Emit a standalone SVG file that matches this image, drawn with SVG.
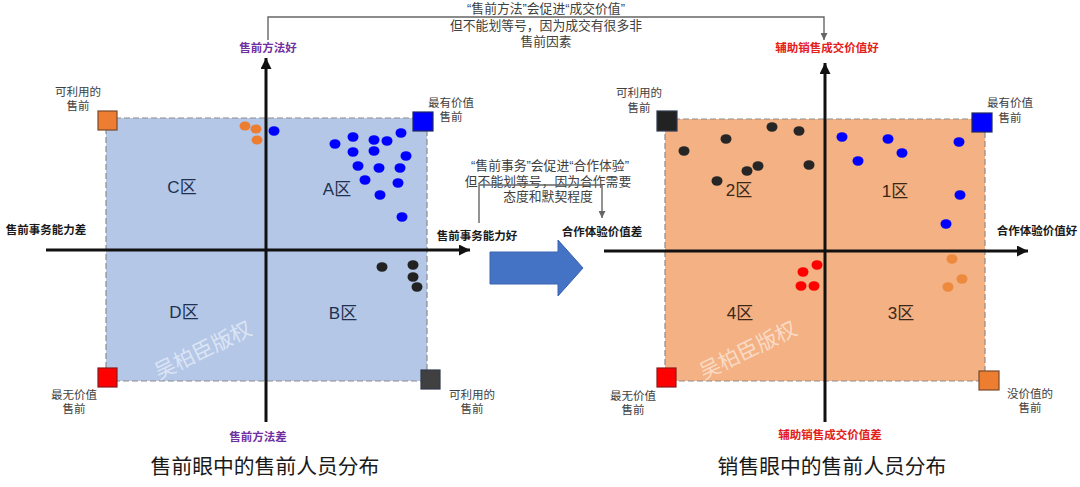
<svg xmlns="http://www.w3.org/2000/svg" width="1080" height="487" viewBox="0 0 1080 487">
<style>
text{font-family:"Liberation Sans","Noto Sans CJK SC",sans-serif;dominant-baseline:central;text-anchor:middle}
.cn{font-size:11.5px;fill:#404040}
.ax{font-size:11.5px;font-weight:bold;fill:#1a1a1a}
.pu{font-size:11.5px;font-weight:bold;fill:#7030A0}
.rd{font-size:11.5px;font-weight:bold;fill:#E3201B}
.zl{font-size:17px;fill:#1F3050}
.zr{font-size:17px;fill:#3A2718}
.wm{font-size:21px;fill:#fff;fill-opacity:0.55}
.note{font-size:12.8px;fill:#404040}
.title{font-size:20.8px;fill:#1a1a1a}
.axis{stroke:#111;stroke-width:3;fill:none}
.brk{stroke:#666;stroke-width:1.4;fill:none}
.area{stroke:#8C8C8C;stroke-width:1.2;stroke-dasharray:6,3}
.sq{stroke-width:1.2}
</style>
<defs>
<marker id="ah" viewBox="0 0 10 10" refX="10" refY="5" markerWidth="12" markerHeight="11" markerUnits="userSpaceOnUse" orient="auto"><path d="M0,0 L10,5 L0,10 z" fill="#111"/></marker>
<marker id="sh" viewBox="0 0 10 10" refX="10" refY="5" markerWidth="8" markerHeight="7" markerUnits="userSpaceOnUse" orient="auto"><path d="M0,0 L10,5 L0,10 z" fill="#666"/></marker>
</defs>

<!-- LEFT CHART -->
<g id="left-chart">
<rect id="left-area" class="area" x="106" y="118" width="321" height="263" fill="#B4C7E7"/>
<text class="wm" transform="translate(203,350) rotate(-26)">吴柏臣版权</text>
<g id="zone-C"><text class="zl" x="182" y="187">C区</text></g>
<g id="zone-A"><text class="zl" x="337" y="189">A区</text></g>
<g id="zone-D"><text class="zl" x="184" y="312">D区</text></g>
<g id="zone-B"><text class="zl" x="343" y="313">B区</text></g>
</g>

<g id="left-dots">
<g fill="#ED7D31">
<ellipse cx="245" cy="126" rx="5.5" ry="4.6"/>
<ellipse cx="256" cy="129" rx="5.5" ry="4.6"/>
<ellipse cx="257" cy="140" rx="5.5" ry="4.6"/>
</g>
<g fill="#0000FF">
<ellipse cx="274" cy="131" rx="5.5" ry="4.8"/>
<ellipse cx="335" cy="144" rx="5.5" ry="4.8"/>
<ellipse cx="353" cy="137" rx="5.5" ry="4.8"/>
<ellipse cx="374" cy="140" rx="5.5" ry="4.8"/>
<ellipse cx="387" cy="141" rx="5.5" ry="4.8"/>
<ellipse cx="401" cy="133" rx="5.5" ry="4.8"/>
<ellipse cx="353" cy="152" rx="5.5" ry="4.8"/>
<ellipse cx="374" cy="151" rx="5.5" ry="4.8"/>
<ellipse cx="406" cy="156" rx="5.5" ry="4.8"/>
<ellipse cx="358" cy="166" rx="5.5" ry="4.8"/>
<ellipse cx="379" cy="168" rx="5.5" ry="4.8"/>
<ellipse cx="400" cy="168" rx="5.5" ry="4.8"/>
<ellipse cx="365" cy="180" rx="5.5" ry="4.8"/>
<ellipse cx="398" cy="183" rx="5.5" ry="4.8"/>
<ellipse cx="380" cy="195" rx="5.5" ry="4.8"/>
<ellipse cx="402" cy="217" rx="5.5" ry="4.8"/>
</g>
<g fill="#222">
<ellipse cx="382" cy="267" rx="5.5" ry="4.8"/>
<ellipse cx="413" cy="265" rx="5.5" ry="4.8"/>
<ellipse cx="413" cy="277" rx="5.5" ry="4.8"/>
<ellipse cx="417" cy="287" rx="5.5" ry="4.8"/>
</g>
</g>

<g id="left-corners">
<g id="l-tl"><rect class="sq" x="98" y="111" width="19" height="19" fill="#ED7D31" stroke="#7A4A2A"/>
<text class="cn" x="78" y="92">可利用的</text><text class="cn" x="78" y="106">售前</text></g>
<g id="l-tr"><rect class="sq" x="413" y="112" width="20" height="19" fill="#0000FF" stroke="#1F2A60"/>
<text class="cn" x="451" y="103">最有价值</text><text class="cn" x="451" y="117">售前</text></g>
<g id="l-bl"><rect class="sq" x="98" y="368" width="19" height="19" fill="#FF0000" stroke="#8B1A1A"/>
<text class="cn" x="74" y="395">最无价值</text><text class="cn" x="74" y="409">售前</text></g>
<g id="l-br"><rect class="sq" x="421" y="370" width="19" height="19" fill="#404040" stroke="#2F3A4F"/>
<text class="cn" x="472" y="395">可利用的</text><text class="cn" x="472" y="409">售前</text></g>
</g>

<g id="left-axis-labels">
<text class="pu" x="268" y="48">售前方法好</text>
<text class="pu" x="258" y="437">售前方法差</text>
<text class="ax" x="46" y="230">售前事务能力差</text>
<text class="ax" x="477" y="236">售前事务能力好</text>
</g>

<!-- RIGHT CHART -->
<g id="right-chart">
<rect id="right-area" class="area" x="665" y="119" width="320" height="262" fill="#F4B183"/>
<text class="wm" transform="translate(748,350) rotate(-26)">吴柏臣版权</text>
<g id="zone-2"><text class="zr" x="739" y="190">2区</text></g>
<g id="zone-1"><text class="zr" x="895" y="191">1区</text></g>
<g id="zone-4"><text class="zr" x="740" y="313">4区</text></g>
<g id="zone-3"><text class="zr" x="901" y="313">3区</text></g>
</g>

<g id="right-dots">
<g fill="#262626">
<ellipse cx="684" cy="151" rx="5.5" ry="4.8"/>
<ellipse cx="726" cy="139" rx="5.5" ry="4.8"/>
<ellipse cx="772" cy="127" rx="5.5" ry="4.8"/>
<ellipse cx="799" cy="131" rx="5.5" ry="4.8"/>
<ellipse cx="758" cy="166" rx="5.5" ry="4.8"/>
<ellipse cx="747" cy="171" rx="5.5" ry="4.8"/>
<ellipse cx="717" cy="181" rx="5.5" ry="4.8"/>
<ellipse cx="809" cy="165" rx="5.5" ry="4.8"/>
</g>
<g fill="#0000FF">
<ellipse cx="842" cy="137" rx="5.5" ry="4.8"/>
<ellipse cx="888" cy="139" rx="5.5" ry="4.8"/>
<ellipse cx="902" cy="153" rx="5.5" ry="4.8"/>
<ellipse cx="858" cy="161" rx="5.5" ry="4.8"/>
<ellipse cx="959" cy="142" rx="5.5" ry="4.8"/>
<ellipse cx="960" cy="195" rx="5.5" ry="4.8"/>
<ellipse cx="946" cy="224" rx="5.5" ry="4.8"/>
</g>
<g fill="#FF0000">
<ellipse cx="803" cy="272" rx="5.5" ry="4.8"/>
<ellipse cx="817" cy="265" rx="5.5" ry="4.8"/>
<ellipse cx="801" cy="286" rx="5.5" ry="4.8"/>
<ellipse cx="814" cy="286" rx="5.5" ry="4.8"/>
</g>
<g fill="#EE8A3E">
<ellipse cx="952" cy="259" rx="5.5" ry="4.8"/>
<ellipse cx="962" cy="279" rx="5.5" ry="4.8"/>
<ellipse cx="948" cy="287" rx="5.5" ry="4.8"/>
</g>
</g>

<g id="right-corners">
<g id="r-tl"><rect class="sq" x="657" y="111" width="20" height="20" fill="#222" stroke="#2F3A4F"/>
<text class="cn" x="639" y="93">可利用的</text><text class="cn" x="639" y="108">售前</text></g>
<g id="r-tr"><rect class="sq" x="972" y="113" width="20" height="19" fill="#0000FF" stroke="#1F2A60"/>
<text class="cn" x="1010" y="103">最有价值</text><text class="cn" x="1010" y="118">售前</text></g>
<g id="r-bl"><rect class="sq" x="657" y="368" width="19" height="19" fill="#FF0000" stroke="#8B1A1A"/>
<text class="cn" x="633" y="396">最无价值</text><text class="cn" x="633" y="410">售前</text></g>
<g id="r-br"><rect class="sq" x="979" y="371" width="20" height="19" fill="#ED7D31" stroke="#7A4A2A"/>
<text class="cn" x="1030" y="394">没价值的</text><text class="cn" x="1030" y="408">售前</text></g>
</g>

<g id="right-axis-labels">
<text class="rd" x="827" y="48">辅助销售成交价值好</text>
<text class="rd" x="830" y="435">辅助销售成交价值差</text>
<text class="ax" x="602" y="232">合作体验价值差</text>
<text class="ax" x="1037" y="231">合作体验价值好</text>
</g>

<!-- notes -->
<g id="note-top">
<text class="note" x="546" y="8">“售前方法”会促进“成交价值”</text>
<text class="note" x="546" y="25">但不能划等号，因为成交有很多非</text>
<text class="note" x="546" y="41">售前因素</text>
</g>
<g id="note-mid">
<text class="note" x="550" y="165">“售前事务”会促进“合作体验”</text>
<text class="note" x="548" y="181">但不能划等号，因为合作需要</text>
<text class="note" x="548" y="196">态度和默契程度</text>
</g>

<g id="block-arrow">
<path d="M490,252 L558,252 L558,240 L583,268 L558,296 L558,284 L490,284 Z" fill="#4472C4" stroke="#3A64B0" stroke-width="1"/>
</g>

<g id="connectors">
<line class="axis" x1="266" y1="422" x2="266" y2="58" marker-end="url(#ah)"/>
<line class="axis" x1="46" y1="250" x2="470" y2="250" marker-end="url(#ah)"/>
<line class="axis" x1="825" y1="422" x2="825" y2="63" marker-end="url(#ah)"/>
<line class="axis" x1="604" y1="251" x2="1028" y2="251" marker-end="url(#ah)"/>
<path class="brk" d="M268,40 L268,17 L824,17 L824,40" marker-end="url(#sh)"/>
<path class="brk" d="M479,223 L479,185 L602,185 L602,218" marker-end="url(#sh)"/>
</g>

<g id="titles">
<text class="title" x="265" y="466">售前眼中的售前人员分布</text>
<text class="title" x="832" y="466">销售眼中的售前人员分布</text>
</g>
</svg>
